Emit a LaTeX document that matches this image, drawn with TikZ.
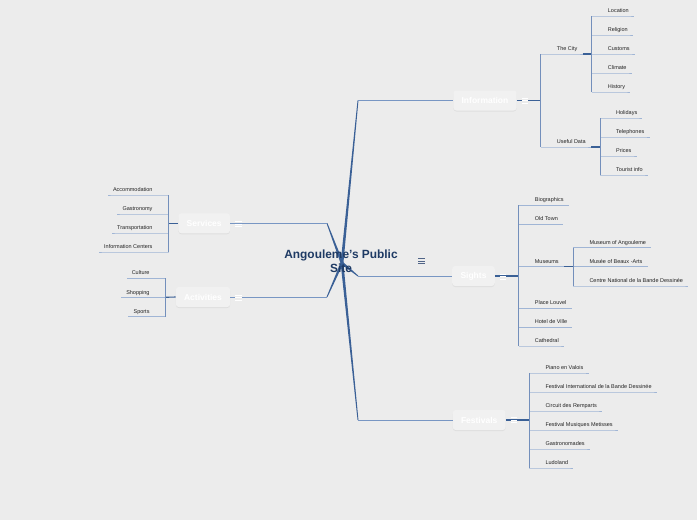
\documentclass[tikz,border=0pt]{standalone}
\usepackage{fontspec}
\setmainfont{Liberation Sans}
\usetikzlibrary{shadows,calc}
\definecolor{bgc}{RGB}{236,236,236}
\definecolor{trunkc}{RGB}{58,96,150}
\definecolor{linkc}{RGB}{120,150,195}
\definecolor{vertc}{RGB}{115,143,187}
\definecolor{underc}{RGB}{160,181,213}
\definecolor{leaftext}{RGB}{35,35,35}
\definecolor{titlec}{RGB}{30,58,100}
\definecolor{topicfill}{RGB}{241,241,241}
\definecolor{iconc}{RGB}{80,100,135}
\newcommand{\rleaf}[4]{%
  \coordinate (#1j) at (#2,#3);
  \node[leaf,anchor=base west] (#1) at (#2+16,#3-3.5) {#4};
  \draw[under] (#1j) -- (#1j -| #1.east) -- ++(5pt,0);
}
\newcommand{\lleaf}[4]{%
  \coordinate (#1j) at (#2,#3);
  \node[leaf,anchor=base east] (#1) at (#2-16,#3-3.5) {#4};
  \draw[under] (#1j) -- (#1j -| #1.west) -- ++(-5pt,0);
}
\newcommand{\menuic}[3]{%
  \foreach \dy in {-2.5,0,2.5}{\draw[#3,line width=0.9pt] (#1-3.2,#2+\dy) -- (#1+3.2,#2+\dy);}
}
\newcommand{\taper}[2]{%
  \fill[trunkc] ($(#1)!1.4pt!90:(#2)$) -- ($(#2)!0.45pt!-90:(#1)$)
     -- ($(#2)!0.45pt!90:(#1)$) -- ($(#1)!1.4pt!-90:(#2)$) -- cycle;
}
\begin{document}
\begin{tikzpicture}[x=1pt,y=-1pt,
  leaf/.style={font=\fontsize{5.5}{6}\selectfont, text=leaftext, inner sep=0pt},
  under/.style={draw=underc, line width=0.9pt},
  vert/.style={draw=vertc, line width=0.9pt},
  link/.style={draw=linkc, line width=0.8pt},
  branch/.style={draw=trunkc, line width=1.1pt},
  topic/.style={fill=topicfill, rounded corners=3pt, text=white,
    font=\bfseries\fontsize{8.5}{10}\selectfont, inner xsep=8.3pt, inner ysep=0pt,
    minimum height=20pt,
    drop shadow={opacity=0.12, shadow xshift=0pt, shadow yshift=-1pt}},
  title/.style={align=center, text=titlec, inner sep=1pt,
    font=\bfseries\fontsize{11.9}{14}\selectfont}
]
\fill[bgc] (0,0) rectangle (697,520);
\useasboundingbox (0,0) rectangle (697,520);

% trunk
\coordinate (o) at (342,263);
\coordinate (infob) at (358,100.5);
\coordinate (sightb) at (358,276);
\coordinate (festb) at (358,420);
\coordinate (servb) at (327,223.3);
\coordinate (actb) at (327,297);
\taper{o}{infob}
\taper{o}{sightb}
\taper{o}{festb}
\taper{o}{servb}
\taper{o}{actb}

% main topics
\node[topic] (info) at (485,100.5) {Information};
\node[topic] (sights) at (473.5,276) {Sights};
\node[topic] (fest) at (479.2,420) {Festivals};
\node[topic] (serv) at (204.2,223.3) {Services};
\node[topic] (act) at (203,297) {Activities};

\draw[link] (infob) -- (info.west);
\draw[link] (sightb) -- (sights.west);
\draw[link] (festb) -- (fest.west);
\draw[link] (servb) -- (serv.east);
\draw[link] (actb) -- (act.east);

\node[title] (ttl) at (341,261) {Angouleme's Public\\Site};
\menuic{421.5}{261}{iconc}

% ---------- Information ----------
\coordinate (infoj) at (540.7,100.5);
\draw[branch] (info.east) -- (infoj);
\menuic{525}{100.5}{white}
\rleaf{city}{540.7}{54}{The City}
\rleaf{useful}{540.7}{147}{Useful Data}
\draw[vert] (cityj) -- (usefulj);
\coordinate (cityk) at (591.7,54);
\coordinate (usefulk) at (600,147);
\draw[branch] ([xshift=5pt]cityj -| city.east) -- (cityk);
\draw[branch] ([xshift=5pt]usefulj -| useful.east) -- (usefulk);
\rleaf{loc}{591.7}{16}{Location}
\rleaf{rel}{591.7}{35}{Religion}
\rleaf{cus}{591.7}{54}{Customs}
\rleaf{cli}{591.7}{73}{Climate}
\rleaf{his}{591.7}{92}{History}
\draw[vert] (locj) -- (hisj);
\rleaf{hol}{600}{118}{Holidays}
\rleaf{tel}{600}{137}{Telephones}
\rleaf{pri}{600}{156}{Prices}
\rleaf{tou}{600}{175}{Tourist info}
\draw[vert] (holj) -- (touj);

% ---------- Sights ----------
\coordinate (sightj) at (518.7,276);
\draw[branch] (sights.east) -- (sightj);
\menuic{503}{276.5}{white}
\rleaf{bio}{518.7}{205.3}{Biographics}
\rleaf{old}{518.7}{224.3}{Old Town}
\rleaf{mus}{518.7}{266.7}{Museums}
\rleaf{pla}{518.7}{308.3}{Place Louvel}
\rleaf{hot}{518.7}{327.3}{Hotel de Ville}
\rleaf{cat}{518.7}{346}{Cathedral}
\draw[vert] (bioj) -- (catj);
\coordinate (musk) at (573.3,266.7);
\draw[branch] ([xshift=5pt]musj -| mus.east) -- (musk);
\rleaf{ang}{573.3}{247.7}{Museum of Angouleme}
\rleaf{bea}{573.3}{266.7}{Musée of Beaux -Arts}
\rleaf{cnb}{573.3}{286}{Centre National de la Bande Dessinée}
\draw[vert] (angj) -- (cnbj);

% ---------- Festivals ----------
\coordinate (festj) at (529.3,420);
\draw[branch] (fest.east) -- (festj);
\menuic{514}{420.3}{white}
\rleaf{pia}{529.3}{373}{Piano en Valois}
\rleaf{fib}{529.3}{392}{Festival International de la Bande Dessinée}
\rleaf{cir}{529.3}{411}{Circuit des Remparts}
\rleaf{fmm}{529.3}{430}{Festival Musiques Metisses}
\rleaf{gas}{529.3}{449}{Gastronomades}
\rleaf{lud}{529.3}{468}{Ludoland}
\draw[vert] (piaj) -- (ludj);

% ---------- Services ----------
\coordinate (servj) at (168.7,223.3);
\draw[branch] (serv.west) -- (servj);
\menuic{238.3}{224}{white}
\lleaf{acc}{168.7}{195}{Accommodation}
\lleaf{gastr}{168.7}{214}{Gastronomy}
\lleaf{tra}{168.7}{233}{Transportation}
\lleaf{ice}{168.7}{252}{Information Centers}
\draw[vert] (accj) -- (icej);

% ---------- Activities ----------
\coordinate (actj) at (165.7,297.3);
\draw[branch] (act.west) -- (actj);
\menuic{238.3}{297.5}{white}
\lleaf{cul}{165.7}{278.3}{Culture}
\lleaf{sho}{165.7}{297.5}{Shopping}
\lleaf{spo}{165.7}{316.7}{Sports}
\draw[vert] (culj) -- (spoj);
\end{tikzpicture}
\end{document}
